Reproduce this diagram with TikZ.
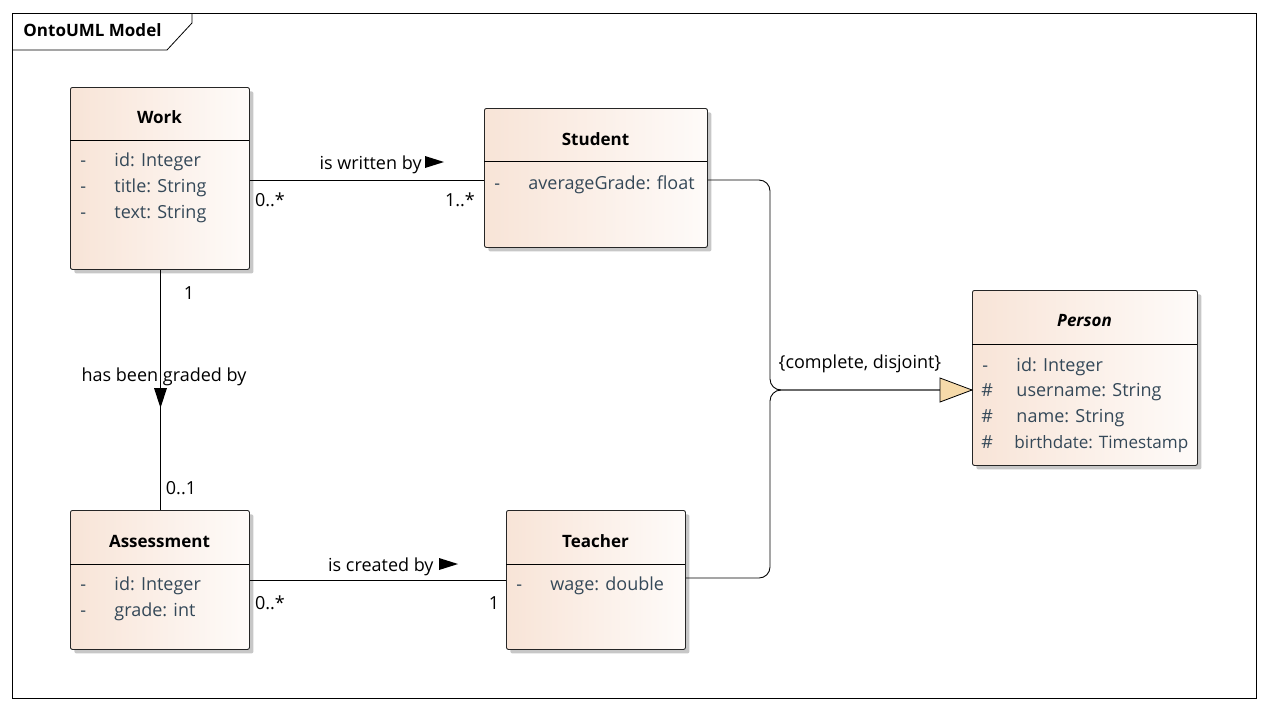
\documentclass[tikz,border=0pt]{standalone}
\usepackage{fontspec}
\setmainfont{Open Sans}
\usetikzlibrary{shadows,calc,arrows.meta}
\definecolor{peachL}{RGB}{248,228,215}
\definecolor{peachR}{RGB}{254,251,249}
\definecolor{attr}{RGB}{52,72,88}
\definecolor{genfill}{RGB}{246,218,170}
\begin{document}
\begin{tikzpicture}[x=1pt,y=-1pt,line width=0.9pt,
  cls/.style={draw=black!85, rounded corners=2pt, left color=peachL, right color=peachR,
    anchor=north west, inner sep=0pt,
    drop shadow={shadow xshift=4pt, shadow yshift=-4pt, fill=black!22, opacity=1, rounded corners=2pt}},
  ttl/.style={font=\fontsize{17}{19}\selectfont\bfseries},
  att/.style={font=\fontsize{18}{20}\selectfont, text=attr, anchor=west, inner sep=0pt, text height=13pt, text depth=4pt, yshift=-2pt},
  lbl/.style={font=\fontsize{18}{20}\selectfont, inner sep=0pt, text height=13pt, text depth=4pt, yshift=-2pt},
  dirtri/.style={fill=black}
]
\useasboundingbox (0,0) rectangle (1268,710);
% frame
\draw[line width=0.8pt] (12,13) rectangle (1256,698);
\draw[line width=0.8pt] (12,50) -- (167,50) -- (192,23) -- (192,13);
\node[lbl,font=\fontsize{17}{19}\selectfont\bfseries,anchor=west,yshift=1pt] (frametitle) at (23,31) {OntoUML Model};

% classes
\node[cls, minimum width=179pt, minimum height=182pt] (work) at (70,87) {};
\node[cls, minimum width=223pt, minimum height=139pt] (student) at (484,108) {};
\node[cls, minimum width=225pt, minimum height=175pt] (person) at (972,290) {};
\node[cls, minimum width=179pt, minimum height=139pt] (assess) at (70,510) {};
\node[cls, minimum width=179pt, minimum height=139pt] (teacher) at (506,510) {};

% header separators
\draw[line width=0.8pt] (70,140) -- (249,140);
\draw[line width=0.8pt] (484,161) -- (707,161);
\draw[line width=0.8pt] (972,344) -- (1197,344);
\draw[line width=0.8pt] (70,564) -- (249,564);
\draw[line width=0.8pt] (506,564) -- (685,564);

% titles
\node[ttl] (workT) at (159.5,117) {Work};
\node[ttl] (studentT) at (595.5,139) {Student};
\node[ttl,font=\fontsize{17}{19}\selectfont\bfseries\itshape] (personT) at (1084.5,321) {Person};
\node[ttl] (assessT) at (159.5,541) {Assessment};
\node[ttl] (teacherT) at (595.5,541) {Teacher};

% attributes
\node[att] (w1v) at (80,160) {-};   \node[att] (w1) at (114,160) {id: Integer};
\node[att] (w2v) at (80,186) {-};   \node[att] (w2) at (114,186) {title: String};
\node[att] (w3v) at (80,212) {-};   \node[att] (w3) at (114,212) {text: String};

\node[att] (s1v) at (494,183) {-};  \node[att] (s1) at (528,183) {averageGrade: float};

\node[att] (p1v) at (982,365) {-};  \node[att] (p1) at (1016,365) {id: Integer};
\node[att] (p2v) at (981,390) {\#}; \node[att] (p2) at (1016,390) {username: String};
\node[att] (p3v) at (981,416) {\#}; \node[att] (p3) at (1016,416) {name: String};
\node[att] (p4v) at (981,442) {\#}; \node[att,font=\fontsize{17.1}{20}\selectfont] (p4) at (1014,442) {birthdate: Timestamp};

\node[att] (a1v) at (80,584) {-};   \node[att] (a1) at (114,584) {id: Integer};
\node[att] (a2v) at (80,610) {-};   \node[att] (a2) at (114,610) {grade: int};

\node[att] (t1v) at (516,584) {-};  \node[att] (t1) at (550,584) {wage: double};

% Work -- Student
\coordinate (ws) at (0,180);
\draw (work.east |- ws) -- (student.west |- ws);
\node[lbl,anchor=east] (wsl) at (422,163) {is written by};
\fill[dirtri] ($(wsl.east)+(3,-9)$) -- ++(19,6) -- ++(-19,6) -- cycle;
\node[lbl] (wsm1) at (270,200) {0..*};
\node[lbl] (wsm2) at (460,200) {1..*};

% Work -- Assessment
\draw (work.south) -- (assess.north);
\node[lbl] (wam1) at (189,293) {1};
\node[lbl] (wal) at (164,375) {has been graded by};
\fill[dirtri] (154,388) -- (167,388) -- (160.5,408) -- cycle;
\node[lbl] (wam2) at (181,488) {0..1};

% Assessment -- Teacher
\coordinate (at) at (0,580);
\draw (assess.east |- at) -- (teacher.west |- at);
\node[lbl,anchor=east] (atl) at (434,565) {is created by};
\fill[dirtri] ($(atl.east)+(5,-9)$) -- ++(19,6) -- ++(-19,6) -- cycle;
\node[lbl] (atm1) at (270,603) {0..*};
\node[lbl] (atm2) at (494,603) {1};

% Generalization
\coordinate (gj) at (770,390);
\coordinate (gs) at (0,180);
\coordinate (gt) at (0,578);
\draw[rounded corners=11pt] (student.east |- gs) -- (gj |- gs) -- (gj) -- (person.west |- gj);
\draw[rounded corners=11pt] (teacher.east |- gt) -- (gj |- gt) -- (gj)
   -- (person.west |- gj);
\path[draw=black, fill=genfill, line width=0.8pt] (person.west |- gj) -- ++(-32,-12) -- ++(0,24) -- cycle;
\node[lbl] (gl) at (860,362) {\{complete, disjoint\}};
\end{tikzpicture}
\end{document}
